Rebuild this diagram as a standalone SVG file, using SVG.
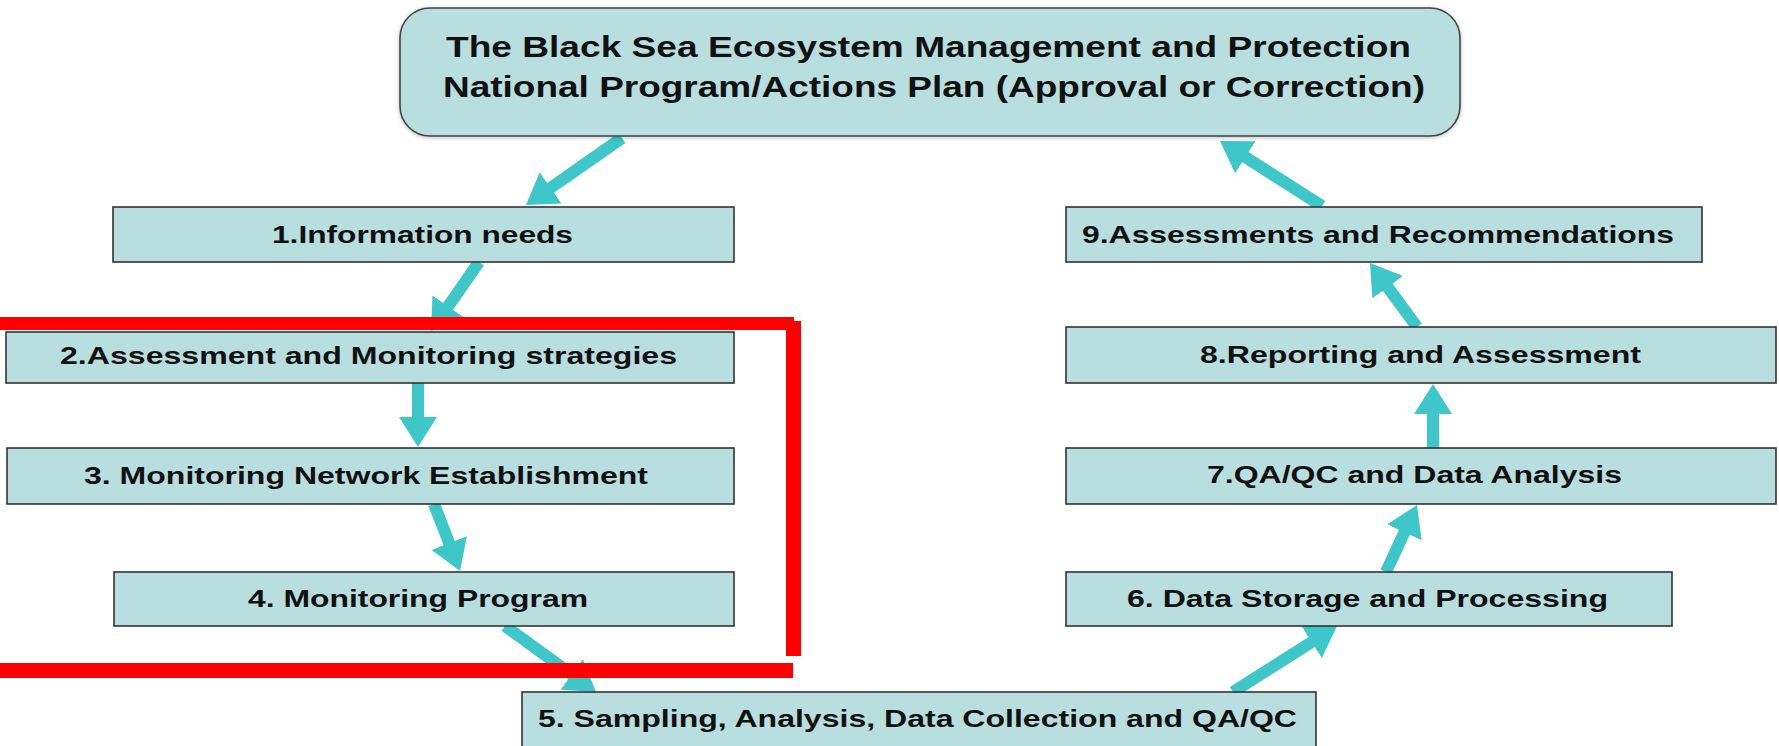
<svg xmlns="http://www.w3.org/2000/svg" width="1779" height="746" viewBox="0 0 1779 746">
  <style>
    .box { fill: #b8dee0; stroke: #333; stroke-width: 1.6; }
    .top { fill: #b8dee0; stroke: #444; stroke-width: 1.6; }
    .lbl { font-family: "Liberation Sans", Arial, sans-serif; font-weight: bold; font-size: 24px; fill: #111; }
    .ttl { font-family: "Liberation Sans", Arial, sans-serif; font-weight: bold; font-size: 29px; fill: #111; }
    .arr { stroke: #3ec6c9; stroke-width: 12; fill: none; marker-end: url(#head); }
    .frame { fill: #ff0000; }
  </style>
  <defs>
    <marker id="head" markerUnits="userSpaceOnUse" markerWidth="32" markerHeight="38" refX="10" refY="19" orient="auto">
      <path d="M0,0 L30,19 L0,38 z" fill="#3ec6c9"/>
    </marker>
    <filter id="soft" x="-5%" y="-20%" width="110%" height="140%">
      <feDropShadow dx="0" dy="1" stdDeviation="2" flood-color="#000" flood-opacity="0.25"/>
    </filter>
  </defs>
  <rect width="1779" height="746" fill="#ffffff"/>

  <!-- flow connectors -->
  <g id="connectors">
    <line class="arr" x1="622" y1="138" x2="542.4" y2="193.6"/>
    <line class="arr" x1="479" y1="262" x2="442.4" y2="314.6"/>
    <line class="arr" x1="418" y1="383" x2="418" y2="427"/>
    <line class="arr" x1="434" y1="504" x2="452.8" y2="552.4"/>
    <line class="arr" x1="505" y1="626" x2="579.8" y2="680.3"/>
    <line class="arr" x1="1233" y1="692" x2="1320.1" y2="636.7"/>
    <line class="arr" x1="1386" y1="572" x2="1408.6" y2="523.2"/>
    <line class="arr" x1="1433" y1="448" x2="1433" y2="404"/>
    <line class="arr" x1="1417" y1="327" x2="1381.8" y2="279.1"/>
    <line class="arr" x1="1322" y1="206" x2="1236.9" y2="151.8"/>
  </g>

  <g id="plan">
    <rect class="top" x="400" y="8" width="1060" height="128" rx="30" ry="30" filter="url(#soft)"/>
    <text class="ttl" x="446" y="57" textLength="965" lengthAdjust="spacingAndGlyphs">The Black Sea Ecosystem Management and Protection</text>
    <text class="ttl" x="443" y="97" textLength="982" lengthAdjust="spacingAndGlyphs">National Program/Actions Plan (Approval or Correction)</text>
  </g>

  <g id="step1">
    <rect class="box" x="113" y="207" width="621" height="55"/>
    <text class="lbl" x="272" y="243" textLength="301" lengthAdjust="spacingAndGlyphs">1.Information needs</text>
  </g>
  <g id="step2">
    <rect class="box" x="6" y="332" width="728" height="51"/>
    <text class="lbl" x="60" y="364" textLength="617" lengthAdjust="spacingAndGlyphs">2.Assessment and Monitoring strategies</text>
  </g>
  <g id="step3">
    <rect class="box" x="7" y="448" width="727" height="56"/>
    <text class="lbl" x="84" y="484" textLength="564" lengthAdjust="spacingAndGlyphs">3. Monitoring Network Establishment</text>
  </g>
  <g id="step4">
    <rect class="box" x="114" y="572" width="620" height="54"/>
    <text class="lbl" x="248" y="607" textLength="340" lengthAdjust="spacingAndGlyphs">4. Monitoring Program</text>
  </g>
  <g id="step5">
    <rect class="box" x="522" y="692" width="794" height="70"/>
    <text class="lbl" x="538" y="727" textLength="759" lengthAdjust="spacingAndGlyphs">5. Sampling, Analysis, Data Collection and QA/QC</text>
  </g>
  <g id="step6">
    <rect class="box" x="1066" y="572" width="606" height="54"/>
    <text class="lbl" x="1127" y="607" textLength="481" lengthAdjust="spacingAndGlyphs">6. Data Storage and Processing</text>
  </g>
  <g id="step7">
    <rect class="box" x="1066" y="448" width="710" height="56"/>
    <text class="lbl" x="1207" y="483" textLength="415" lengthAdjust="spacingAndGlyphs">7.QA/QC and Data Analysis</text>
  </g>
  <g id="step8">
    <rect class="box" x="1066" y="327" width="710" height="56"/>
    <text class="lbl" x="1200" y="363" textLength="441" lengthAdjust="spacingAndGlyphs">8.Reporting and Assessment</text>
  </g>
  <g id="step9">
    <rect class="box" x="1066" y="207" width="636" height="55"/>
    <text class="lbl" x="1082" y="243" textLength="592" lengthAdjust="spacingAndGlyphs">9.Assessments and Recommendations</text>
  </g>

  <!-- red highlight frame around steps 2-4 -->
  <g id="highlight">
    <rect class="frame" x="0" y="317" width="794" height="13"/>
    <rect class="frame" x="786" y="321" width="15" height="335"/>
    <rect class="frame" x="0" y="663" width="793" height="15"/>
  </g>
</svg>
